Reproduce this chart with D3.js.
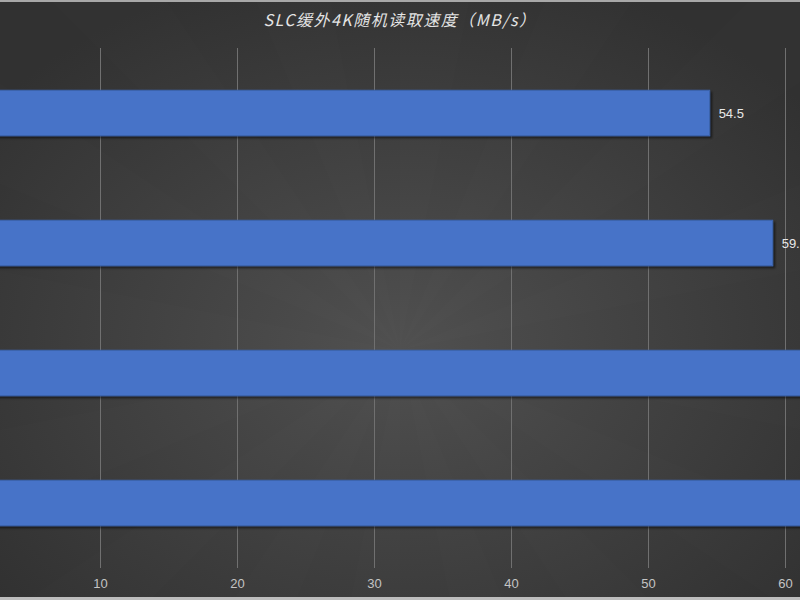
<!DOCTYPE html>
<html>
<head>
<meta charset="utf-8">
<script src="https://cdn.jsdelivr.net/npm/d3@7"></script>
<style>
  html, body { margin: 0; padding: 0; background: #3a3a3a; }
  svg { display: block; }
</style>
</head>
<body>
<div id="chart"></div>
<script>
// chart data
var categories = ["盘A", "盘B", "盘C", "盘D"];
var speeds = [54.5, 59.1, 63.4, 66.2];
var tickValues = [10, 20, 30, 40, 50, 60];
var title = "SLC缓外4K随机读取速度（MB/s）";

var width = 800, height = 600;

var svg = d3.select("#chart").append("svg")
    .attr("width", width)
    .attr("height", height);

var defs = svg.append("defs");

// radial background
var grad = defs.append("radialGradient")
    .attr("id", "bg")
    .attr("cx", "50%").attr("cy", "58%").attr("r", "65%");
grad.append("stop").attr("offset", "0%").attr("stop-color", "#505050");
grad.append("stop").attr("offset", "100%").attr("stop-color", "#313131");

// bar shadow
var shadow = defs.append("filter").attr("id", "shadow")
    .attr("x", "-5%").attr("y", "-20%").attr("width", "115%").attr("height", "150%");
shadow.append("feDropShadow")
    .attr("dx", 2).attr("dy", 2).attr("stdDeviation", 1.2)
    .attr("flood-color", "#000").attr("flood-opacity", 0.55);

svg.append("rect")
    .attr("width", width).attr("height", height)
    .attr("fill", "url(#bg)");

// faint sunburst wedges
var cx = 400, cy = 350, R = 900;
var wedges = d3.range(0, 16);
svg.append("g").selectAll("path")
    .data(wedges)
    .join("path")
    .attr("d", function(i) {
        var a0 = i * Math.PI * 2 / 16, a1 = a0 + Math.PI / 16;
        return "M" + cx + "," + cy +
            "L" + (cx + R * Math.cos(a0)) + "," + (cy + R * Math.sin(a0)) +
            "L" + (cx + R * Math.cos(a1)) + "," + (cy + R * Math.sin(a1)) + "Z";
    })
    .attr("fill", "#ffffff")
    .attr("opacity", 0.007);

// top / bottom border lines
svg.append("rect").attr("x", 0).attr("y", 0).attr("width", width).attr("height", 2).attr("fill", "#a8a8a8");
svg.append("rect").attr("x", 0).attr("y", 597).attr("width", width).attr("height", 3).attr("fill", "#bdbdbd");

// scales
var x = d3.scaleLinear().domain([0, 60]).range([-37, 785]);
var y = d3.scaleBand().domain(categories).range([48, 568])
    .paddingInner(0.65).paddingOuter(0.325);

// gridlines
svg.append("g")
    .attr("transform", "translate(0,48)")
    .call(d3.axisTop(x).tickValues(tickValues).tickSize(-520).tickFormat(""))
    .call(function(g) { g.select(".domain").remove(); })
    .selectAll("line")
    .attr("stroke", "#707070")
    .attr("stroke-width", 1);

// tick labels
var axis = svg.append("g")
    .attr("transform", "translate(0,568)")
    .call(d3.axisBottom(x).tickValues(tickValues).tickSize(0).tickPadding(11));
axis.select(".domain").remove();
axis.selectAll("text")
    .attr("fill", "#c4c4c4")
    .style("font-family", "Arial, 'Liberation Sans', sans-serif")
    .style("font-size", "13px");

// bars
svg.append("g").selectAll("rect")
    .data(speeds)
    .join("rect")
    .attr("x", x(0))
    .attr("y", function(d, i) { return y(categories[i]); })
    .attr("width", function(d) { return x(d) - x(0); })
    .attr("height", y.bandwidth())
    .attr("fill", "#4673c8")
    .attr("stroke", "#3d64ae")
    .attr("stroke-width", 1)
    .attr("filter", "url(#shadow)");

// value labels
svg.append("g").selectAll("text")
    .data(speeds)
    .join("text")
    .attr("x", function(d) { return x(d) + 9; })
    .attr("y", function(d, i) { return y(categories[i]) + y.bandwidth() / 2; })
    .attr("dy", "0.35em")
    .attr("fill", "#e8e8e8")
    .style("font-family", "Arial, 'Liberation Sans', sans-serif")
    .style("font-size", "13px")
    .text(function(d) { return d; });

// title
svg.append("text")
    .attr("x", 400).attr("y", 26)
    .attr("text-anchor", "middle")
    .attr("fill", "#e4e4e4")
    .style("font-family", "'Noto Sans CJK SC', sans-serif")
    .style("font-style", "italic")
    .style("font-size", "16px")
    .style("letter-spacing", "1.5px")
    .text(title);
</script>
</body>
</html>
